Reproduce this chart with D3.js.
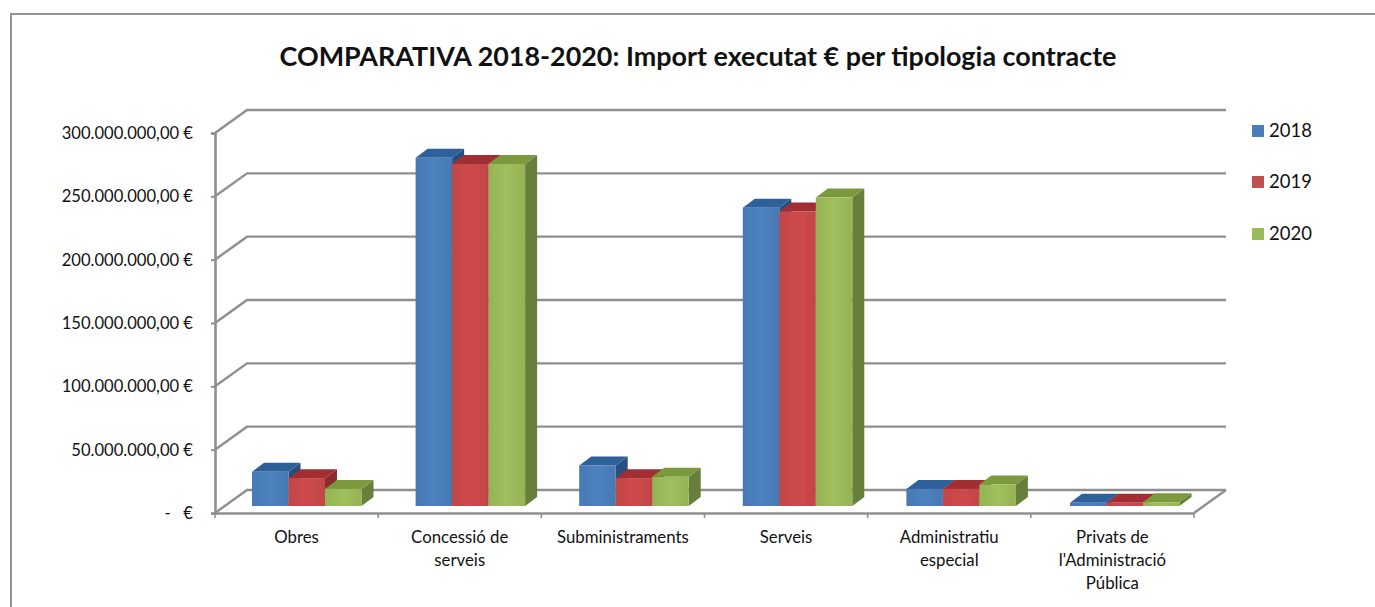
<!DOCTYPE html>
<html><head><meta charset="utf-8">
<script src="https://cdn.jsdelivr.net/npm/d3@7"></script>
<style>html,body{margin:0;padding:0;background:#fff}svg{display:block}text{font-family:Lato,"Open Sans",sans-serif;fill:#111}</style>
</head><body><div id="c"></div>
<script>
const titleText = "COMPARATIVA 2018-2020: Import executat € per tipologia contracte";
const categories = ["Obres","Concessió de serveis","Subministraments","Serveis","Administratiu especial","Privats de l'Administració Pública"];
const categoryLines = [["Obres"],["Concessió de","serveis"],["Subministraments"],["Serveis"],["Administratiu","especial"],["Privats de","l'Administració","Pública"]];
const seriesNames = ["2018","2019","2020"];
const values2018 = [27e6,275e6,32e6,235.5e6,13.5e6,2.5e6];
const values2019 = [22e6,270e6,22e6,232.5e6,13.5e6,2.5e6];
const values2020 = [13.5e6,270e6,23e6,243.5e6,17e6,3e6];
const seriesValues = [values2018,values2019,values2020];
const yTicks = [0,50e6,100e6,150e6,200e6,250e6,300e6];
const colFront = ["#4a7ebb","#c9484a","#9bbb59"];
const colTop = ["#2f6199","#a12f33","#7a9a3c"];
const colSide = ["#274f80","#8c2a2d","#66803a"];

const W=1375,H=607;
const svg=d3.select("#c").append("svg").attr("width",W).attr("height",H);
const defs=svg.append("defs");
defs.append("filter").attr("id","soft").append("feGaussianBlur").attr("stdDeviation",0.6);
colFront.forEach((c,i)=>{
  const g=defs.append("linearGradient").attr("id","g"+i);
  g.append("stop").attr("offset","0").attr("stop-color",d3.color(c).darker(0.12));
  g.append("stop").attr("offset","0.5").attr("stop-color",d3.color(c).brighter(0.08));
  g.append("stop").attr("offset","1").attr("stop-color",d3.color(c).darker(0.12));
});

svg.append("path").attr("d",`M11,607V14H${W}`).attr("fill","none").attr("stroke","#949494").attr("stroke-width",2);

svg.append("text").attr("x",698).attr("y",66).attr("text-anchor","middle")
  .attr("font-weight",700).attr("font-size",26.9).text(titleText);

const x0=215,x1=1194,depthX=32,depthY=23;
const y=d3.scaleLinear().domain([0,300e6]).range([513,133]);
const x=d3.scaleBand().domain(categories).range([x0,x1]);
const xBars=d3.scaleBand().domain(categories).range([x0+37,x0+37+6*163.6]);
const inner=36.5;
const gridC="#8f8f8f";

const grid=svg.append("g").attr("fill","none").attr("stroke",gridC).attr("stroke-width",2.4).attr("filter","url(#soft)");
yTicks.forEach(t=>{
  grid.append("path").attr("d",`M${x0},${y(t)}L${x0+depthX},${y(t)-depthY}H${x1+depthX}`);
});
grid.append("path").attr("d",`M${x1},${y(0)}L${x1+depthX},${y(0)-depthY}`);

const fmt=d3.formatLocale({decimal:",",thousands:".",grouping:[3],currency:["","€"]}).format(",.2f");
const yAxis=d3.axisLeft(y).tickValues(yTicks).tickSize(4).tickPadding(18)
  .tickFormat(v=>v===0?"-\u00A0\u00A0\u00A0€":fmt(v)+" €");
const ga=svg.append("g").attr("transform",`translate(${x0},0)`).call(yAxis);
ga.selectAll("text").attr("font-size",16.6).attr("fill","#111").attr("font-family","Lato").attr("dy","0.33em");
ga.selectAll("line").attr("stroke",gridC).attr("stroke-width",2);
ga.select(".domain").attr("stroke",gridC).attr("stroke-width",2.6);

const xAxis=d3.axisBottom(x).tickValues([]).tickSize(0);
const gx=svg.append("g").attr("transform",`translate(0,${y(0)})`).call(xAxis);
gx.select(".domain").attr("stroke",gridC).attr("stroke-width",2.6);
d3.range(0,categories.length+1).forEach(i=>{
  const tx=i<categories.length?x(categories[i]):x1;
  gx.append("line").attr("x1",tx).attr("x2",tx).attr("y1",0).attr("y2",5).attr("stroke",gridC).attr("stroke-width",1.6);
});
categories.forEach((c,i)=>{
  const t=gx.append("text").attr("y",30).attr("text-anchor","middle").attr("font-size",16.8);
  categoryLines[i].forEach((l,j)=>t.append("tspan").attr("x",x(c)+x.bandwidth()/2).attr("dy",j?23:0).text(l));
});

const dx=12,dy=9,lift=7;
const barsG=svg.append("g").attr("filter","url(#soft)");
categories.forEach((c,ci)=>{
  seriesNames.forEach((s,si)=>{
    const xl=xBars(c)+si*inner, xr=xl+inner;
    const top=y(seriesValues[si][ci])-lift, base=y(0)-lift;
    barsG.append("path").attr("fill",colSide[si]).attr("d",`M${xr},${top}L${xr+dx},${top-dy}V${base-dy}L${xr},${base}Z`);
    barsG.append("path").attr("fill",colTop[si]).attr("d",`M${xl},${top}L${xl+dx},${top-dy}H${xr+dx}L${xr},${top}Z`);
    barsG.append("rect").attr("x",xl).attr("y",top).attr("width",inner).attr("height",base-top).attr("fill",`url(#g${si})`);
  });
});

const legY=[131,182,234];
const legCol=["#4a7ebb","#c0504d","#9bbb59"];
seriesNames.forEach((s,i)=>{
  svg.append("rect").attr("x",1252).attr("y",legY[i]-6).attr("width",12).attr("height",12).attr("fill",legCol[i]);
  svg.append("text").attr("x",1269).attr("y",legY[i]).attr("dy","0.35em").attr("font-size",18.5).text(s);
});
</script></body></html>
